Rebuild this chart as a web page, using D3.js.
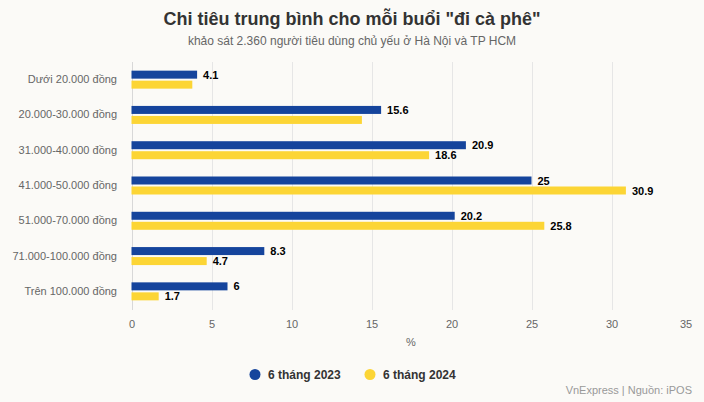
<!DOCTYPE html>
<html>
<head>
<meta charset="utf-8">
<script src="https://cdn.jsdelivr.net/npm/d3@7/dist/d3.min.js"></script>
<style>
html,body{margin:0;padding:0;background:#fbfaf7;}
svg{display:block;font-family:"Liberation Sans",Arial,sans-serif;}
</style>
</head>
<body>
<svg id="chart" width="704" height="402"></svg>
<script>
const categories = ["Dưới 20.000 đồng","20.000-30.000 đồng","31.000-40.000 đồng","41.000-50.000 đồng","51.000-70.000 đồng","71.000-100.000 đồng","Trên 100.000 đồng"];
const series2023 = [4.1, 15.6, 20.9, 25, 20.2, 8.3, 6];
const series2024 = [3.8, 14.4, 18.6, 30.9, 25.8, 4.7, 1.7];
const labels2023 = [true, true, true, true, true, true, true];
const labels2024 = [false, false, true, true, true, true, true];
const seriesNames = ["6 tháng 2023", "6 tháng 2024"];
const seriesColors = ["#15449c", "#fcd535"];
const xTicks = [0, 5, 10, 15, 20, 25, 30, 35];

const svg = d3.select("#chart");
const W = 704, H = 402;
svg.append("rect").attr("width", W).attr("height", H).attr("fill", "#fbfaf7");

const x = d3.scaleLinear().domain([0, 35]).range([131.5, 691.5]);
const y = d3.scaleBand().domain(categories).range([62, 309]);

// title
svg.append("text").attr("x", 352).attr("y", 25).attr("text-anchor", "middle")
  .attr("font-size", 18).attr("font-weight", "bold").attr("fill", "#333")
  .text("Chi tiêu trung bình cho mỗi buổi \"đi cà phê\"");
svg.append("text").attr("x", 352).attr("y", 45).attr("text-anchor", "middle")
  .attr("font-size", 12).attr("fill", "#666")
  .text("khảo sát 2.360 người tiêu dùng chủ yếu ở Hà Nội và TP HCM");

// grid (no line at the far right edge)
const gx = svg.append("g");
gx.selectAll("line").data(xTicks.filter(d => d < 35)).join("line")
  .attr("x1", d => Math.round(x(d)) + 0.5).attr("x2", d => Math.round(x(d)) + 0.5)
  .attr("y1", 62).attr("y2", 310)
  .attr("stroke", d => d === 0 ? "#d8d8d8" : "#e6e6e6").attr("stroke-width", 1);

// x axis labels
const axis = d3.axisBottom(x).tickValues(xTicks).tickSize(0).tickPadding(0);
const ag = svg.append("g").attr("transform", "translate(0,328)").call(axis);
ag.select(".domain").remove();
ag.selectAll("text").attr("font-size", 11).attr("fill", "#666")
  .attr("font-family", "Liberation Sans, Arial, sans-serif").attr("dy", 0)
  .attr("dx", d => d === 35 ? -6 : 0);
svg.append("text").attr("x", 411).attr("y", 346).attr("text-anchor", "middle")
  .attr("font-size", 11).attr("fill", "#666").text("%");

// category labels
const yAxis = d3.axisLeft(y).tickSize(0).tickPadding(0);
const yg = svg.append("g").attr("transform", "translate(117,0)").call(yAxis);
yg.select(".domain").remove();
yg.selectAll("text").attr("font-size", 11).attr("fill", "#666")
  .attr("font-family", "Liberation Sans, Arial, sans-serif");

// bars
const barH = 8, gap = 2;
const allSeries = [series2023, series2024];
const allLabels = [labels2023, labels2024];
allSeries.forEach((vals, si) => {
  const off = y.bandwidth() / 2 - barH - gap / 2 + si * (barH + gap);
  const rows = vals.map((v, i) => ({ v, cat: categories[i], show: allLabels[si][i] }));
  const g = svg.append("g");
  g.selectAll("rect").data(rows).join("rect")
    .attr("x", x(0)).attr("y", d => y(d.cat) + off)
    .attr("width", d => x(d.v) - x(0)).attr("height", barH)
    .attr("fill", seriesColors[si]);
  g.selectAll("text").data(rows.filter(d => d.show)).join("text")
    .attr("x", d => x(d.v) + 6)
    .attr("y", d => y(d.cat) + off + barH / 2 + 4)
    .attr("font-size", 11).attr("font-weight", "bold").attr("fill", "#000")
    .text(d => d.v);
});

// legend
const legX = [255, 370];
seriesNames.forEach((n, i) => {
  svg.append("circle").attr("cx", legX[i]).attr("cy", 374.5).attr("r", 5.5).attr("fill", seriesColors[i]);
  svg.append("text").attr("x", legX[i] + 13).attr("y", 379).attr("font-size", 12)
    .attr("font-weight", "bold").attr("fill", "#333").text(n);
});

// credit
svg.append("text").attr("x", 692).attr("y", 394).attr("text-anchor", "end")
  .attr("font-size", 11).attr("fill", "#999").text("VnExpress | Nguồn: iPOS");
</script>
</body>
</html>
